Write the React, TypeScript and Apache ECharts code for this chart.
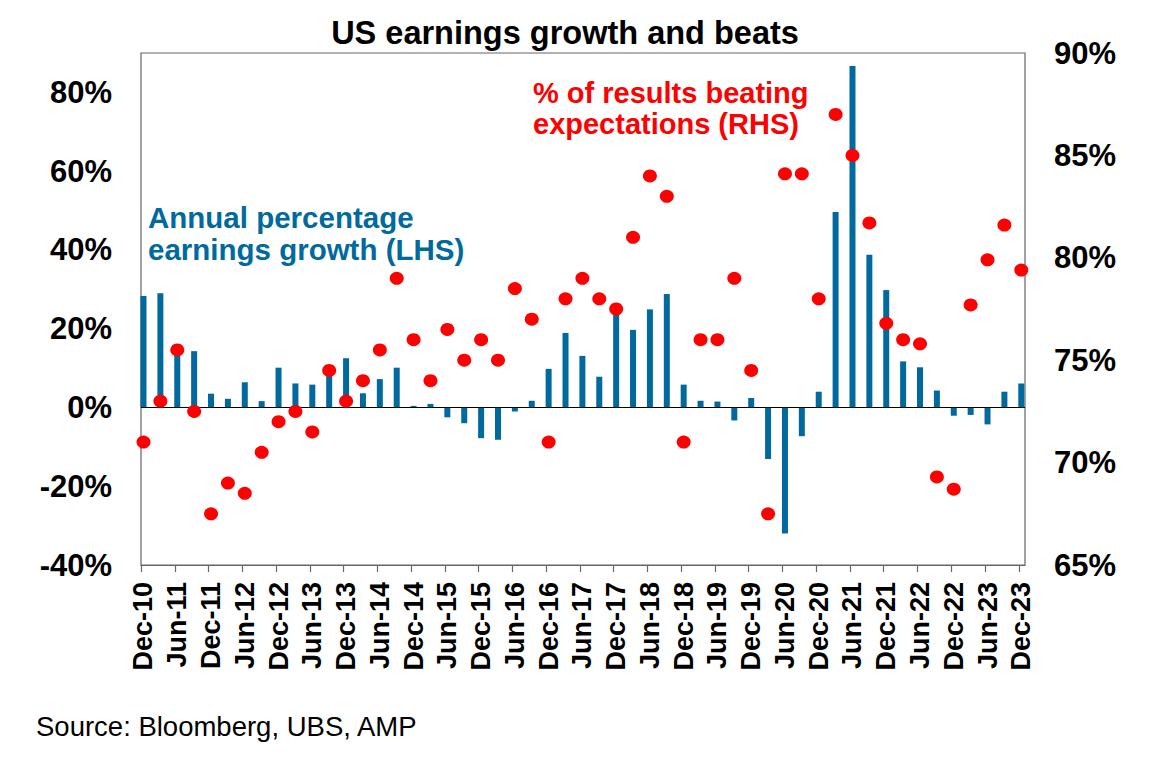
import React, { useEffect, useRef } from "react";
import * as echarts from "echarts";

const quarters = [
  "Dec-10",
  "Mar-11", "Jun-11", "Sep-11", "Dec-11",
  "Mar-12", "Jun-12", "Sep-12", "Dec-12",
  "Mar-13", "Jun-13", "Sep-13", "Dec-13",
  "Mar-14", "Jun-14", "Sep-14", "Dec-14",
  "Mar-15", "Jun-15", "Sep-15", "Dec-15",
  "Mar-16", "Jun-16", "Sep-16", "Dec-16",
  "Mar-17", "Jun-17", "Sep-17", "Dec-17",
  "Mar-18", "Jun-18", "Sep-18", "Dec-18",
  "Mar-19", "Jun-19", "Sep-19", "Dec-19",
  "Mar-20", "Jun-20", "Sep-20", "Dec-20",
  "Mar-21", "Jun-21", "Sep-21", "Dec-21",
  "Mar-22", "Jun-22", "Sep-22", "Dec-22",
  "Mar-23", "Jun-23", "Sep-23", "Dec-23",
];

// Annual percentage earnings growth (LHS, %)
const earningsGrowth = [
  28.3, 29.0, 14.5, 14.3, 3.5, 2.2, 6.4, 1.6, 10.1, 6.1, 5.8, 8.5, 12.5,
  3.6, 7.2, 10.1, 0.4, 0.9, -2.5, -4.0, -7.8, -8.2, -1.0, 1.7, 9.8, 18.9,
  13.1, 7.8, 24.2, 19.7, 24.9, 28.8, 5.8, 1.7, 1.5, -3.3, 2.4, -13.1, -32.0,
  -7.3, 4.0, 49.6, 86.7, 38.8, 29.8, 11.7, 10.2, 4.3, -2.1, -1.9, -4.3, 4.0,
  6.1,
];

// % of results beating expectations (RHS, %)
const beatRate = [
  71.0, 73.0, 75.5, 72.5, 67.5, 69.0, 68.5, 70.5, 72.0, 72.5, 71.5, 74.5,
  73.0, 74.0, 75.5, 79.0, 76.0, 74.0, 76.5, 75.0, 76.0, 75.0, 78.5, 77.0,
  71.0, 78.0, 79.0, 78.0, 77.5, 81.0, 84.0, 83.0, 71.0, 76.0, 76.0, 79.0,
  74.5, 67.5, 84.1, 84.1, 78.0, 87.0, 85.0, 81.7, 76.8, 76.0, 75.8, 69.3,
  68.7, 77.7, 79.9, 81.6, 79.4,
];

const leftTicks = { min: -40, max: 90, interval: 20 };
const rightTicks = { min: 65, max: 90, interval: 5 };

const FONT = "'Liberation Sans', Arial, Helvetica, sans-serif";
const BLUE = "#00699E";
const RED = "#FF0000";
const TICK_SHIFT = 0.148;

export default function App() {
  const ref = useRef<HTMLDivElement>(null);

  useEffect(() => {
    if (!ref.current) return;
    const chart = echarts.init(ref.current, undefined, { renderer: "svg" });

    const labelIdx = quarters.map((_, i) => i).filter((i) => i % 2 === 0);
    const tickVals = labelIdx.map((i) => i - TICK_SHIFT);

    const option: any = {
      animation: false,
      backgroundColor: "#ffffff",
      grid: {
        left: 141,
        right: 140,
        top: 53,
        bottom: 198,
        show: true,
        borderColor: "#666666",
        borderWidth: 1.2,
        backgroundColor: "transparent",
      },
      xAxis: {
        type: "value",
        min: -TICK_SHIFT,
        max: 52.22,
        splitLine: { show: false },
        axisLine: { show: true, onZero: false, lineStyle: { color: "#666666", width: 1.2 } },
        axisTick: {
          show: true,
          customValues: tickVals,
          length: 7,
          lineStyle: { color: "#666666", width: 1.2 },
        },
        axisLabel: {
          customValues: labelIdx,
          rotate: 90,
          margin: 17,
          formatter: (v: number) => quarters[Math.round(v)] ?? "",
          color: "#000000",
          fontFamily: FONT,
          fontWeight: "bold",
          fontSize: 27,
        },
      },
      yAxis: [
        {
          type: "value",
          position: "left",
          min: leftTicks.min,
          max: leftTicks.max,
          interval: leftTicks.interval,
          splitLine: { show: false },
          axisLine: { show: false, onZero: false },
          axisTick: { show: false },
          axisLabel: {
            margin: 29,
            formatter: (v: number) => (v === 90 ? "" : v + "%"),
            color: "#000000",
            fontFamily: FONT,
            fontWeight: "bold",
            fontSize: 31,
          },
        },
        {
          type: "value",
          position: "right",
          min: rightTicks.min,
          max: rightTicks.max,
          interval: rightTicks.interval,
          splitLine: { show: false },
          axisLine: { show: false, onZero: false },
          axisTick: { show: false },
          axisLabel: {
            margin: 29,
            formatter: (v: number) => v + "%",
            color: "#000000",
            fontFamily: FONT,
            fontWeight: "bold",
            fontSize: 31,
          },
        },
      ],
      series: [
        {
          type: "bar",
          yAxisIndex: 0,
          barWidth: 6,
          clip: false,
          itemStyle: { color: BLUE },
          data: earningsGrowth.map((v, i) => [i, v]),
          markLine: {
            silent: true,
            symbol: "none",
            label: { show: false },
            lineStyle: { color: "#000000", width: 1.2, type: "solid" },
            data: [{ yAxis: 0 }],
          },
        },
        {
          type: "scatter",
          yAxisIndex: 1,
          symbol: "circle",
          symbolSize: [14, 13],
          itemStyle: { color: RED, opacity: 1 },
          data: beatRate.map((v, i) => [i, v]),
          z: 5,
        },
      ],
      graphic: [
        {
          type: "text",
          x: 565,
          y: 33,
          style: {
            text: "US earnings growth and beats",
            fill: "#000000",
            font: `bold 32.5px ${FONT}`,
            textAlign: "center",
            textVerticalAlign: "middle",
          },
        },
        {
          type: "text",
          x: 148,
          y: 233,
          style: {
            text: "Annual percentage\nearnings growth (LHS)",
            fill: BLUE,
            font: `bold 29.5px ${FONT}`,
            lineHeight: 32,
            textAlign: "left",
            textVerticalAlign: "middle",
          },
        },
        {
          type: "text",
          x: 533,
          y: 108.5,
          style: {
            text: "% of results beating\nexpectations (RHS)",
            fill: RED,
            font: `bold 29px ${FONT}`,
            lineHeight: 30.5,
            textAlign: "left",
            textVerticalAlign: "middle",
          },
        },
        {
          type: "text",
          x: 36,
          y: 726,
          style: {
            text: "Source: Bloomberg, UBS, AMP",
            fill: "#000000",
            font: `27.5px ${FONT}`,
            textAlign: "left",
            textVerticalAlign: "middle",
          },
        },
      ],
    };

    chart.setOption(option);
    return () => chart.dispose();
  }, []);

  return (
    <div
      ref={ref}
      style={{ position: "absolute", left: 0, top: 0, width: 1165, height: 763 }}
    />
  );
}
